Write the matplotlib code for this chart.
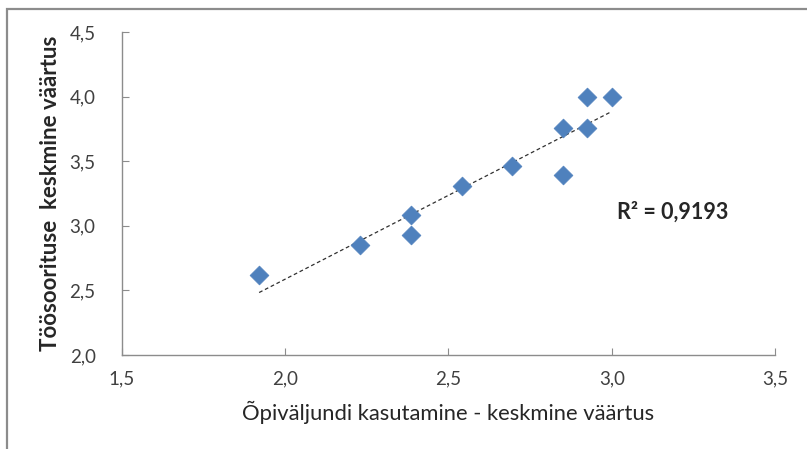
import numpy as np
import matplotlib
matplotlib.use("Agg")
import matplotlib.pyplot as plt
from matplotlib.patches import Rectangle
from matplotlib.ticker import FuncFormatter

plt.rcParams['font.family'] = ['Lato', 'DejaVu Sans']

x_vals = [1.92, 2.23, 2.385, 2.385, 2.54, 2.695, 2.85, 2.85, 2.925, 2.925, 3.0]
y_vals = [2.62, 2.85, 3.08, 2.93, 3.31, 3.46, 3.76, 3.39, 3.76, 4.0, 4.0]
r2_label = "R² = 0,9193"
x_label = "Õpiväljundi kasutamine - keskmine väärtus"
y_label = "Töösoorituse  keskmine väärtus"
x_ticks = [1.5, 2.0, 2.5, 3.0, 3.5]
y_ticks = [2.0, 2.5, 3.0, 3.5, 4.0, 4.5]

fig = plt.figure(figsize=(8.07, 4.49), dpi=100)
ax = fig.add_axes([0.1512, 0.2094, 0.8091, 0.7193])

# outer border (top and left visible)
fig.patches.append(Rectangle((7/807, -0.1), 1.2, (449-9)/449 + 0.1, transform=fig.transFigure,
                             fill=False, edgecolor='#8c8c8c', linewidth=1.6))

ax.scatter(x_vals, y_vals, marker='D', s=9.6**2, color='#4F81BD', edgecolors='#4F81BD',
           linewidths=0.5, zorder=3)

coef = np.polyfit(x_vals, y_vals, 1)
xs = np.array([min(x_vals), max(x_vals)])
ax.plot(xs, np.polyval(coef, xs), linestyle=(0, (3, 2.2)), color='#303030', linewidth=0.9, zorder=2)

ax.set_xlim(1.5, 3.5)
ax.set_ylim(2.0, 4.5)
ax.set_xticks(x_ticks)
ax.set_yticks(y_ticks)
fmt = FuncFormatter(lambda v, p: f"{v:.1f}".replace('.', ','))
ax.xaxis.set_major_formatter(fmt)
ax.yaxis.set_major_formatter(fmt)

for s in ['top', 'right']:
    ax.spines[s].set_visible(False)
for s in ['left', 'bottom']:
    ax.spines[s].set_color('#8c8c8c')
    ax.spines[s].set_linewidth(1.0)

ax.tick_params(axis='both', direction='in', length=5, width=0.8, color='#8c8c8c',
               labelsize=13.5, labelcolor='#404040')
ax.tick_params(axis='y', pad=19)
ax.tick_params(axis='x', pad=11)

ax.set_xlabel(x_label, fontsize=15.8, color='#262626', labelpad=10)
ax.set_ylabel(y_label, fontsize=16, fontweight='bold', color='#262626', labelpad=6)

ax.text(617, 449 - 212, r2_label, transform=None, fontsize=15.5, fontweight='bold', color='#262626',
        va='center', ha='left')

fig.savefig('out.png', dpi=100, facecolor='white')
